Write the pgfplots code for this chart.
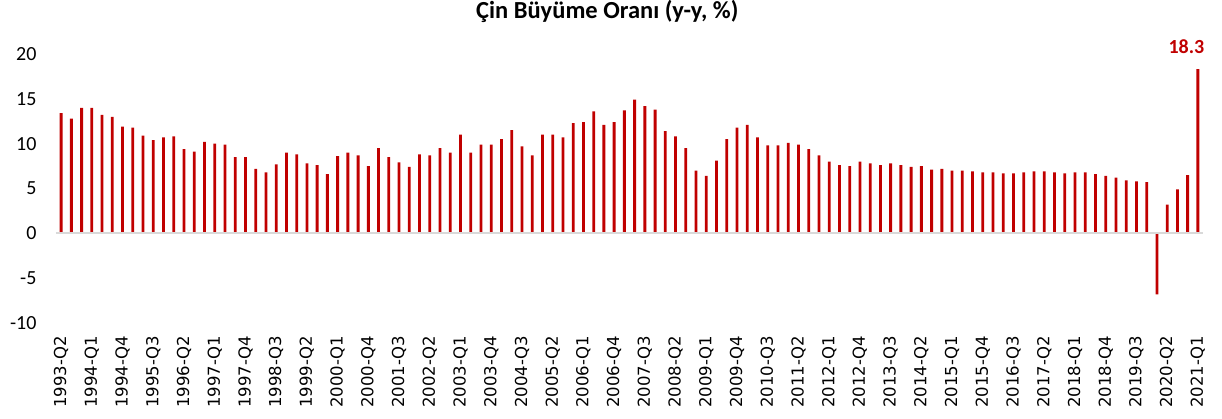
\documentclass[border=0pt]{standalone}
\usepackage{fontspec}
\setmainfont{Carlito}
\newfontfamily\tickfont{DejaVu Sans}
\usepackage{pgfplots}
\usepackage{pgfplotstable}
\pgfplotsset{compat=1.18}
\definecolor{barred}{HTML}{C00000}
\definecolor{axgray}{HTML}{D9D9D9}
\pgfplotstableread{
x y
0 13.4
1 12.8
2 14.0
3 14.0
4 13.2
5 13.0
6 11.9
7 11.8
8 10.9
9 10.4
10 10.7
11 10.8
12 9.4
13 9.1
14 10.2
15 10.0
16 9.9
17 8.5
18 8.5
19 7.2
20 6.8
21 7.7
22 9.0
23 8.8
24 7.8
25 7.6
26 6.6
27 8.6
28 9.0
29 8.7
30 7.5
31 9.5
32 8.5
33 7.9
34 7.4
35 8.8
36 8.7
37 9.5
38 9.0
39 11.0
40 9.0
41 9.9
42 9.9
43 10.5
44 11.5
45 9.7
46 8.7
47 11.0
48 11.0
49 10.7
50 12.3
51 12.4
52 13.6
53 12.1
54 12.4
55 13.7
56 14.9
57 14.2
58 13.8
59 11.4
60 10.8
61 9.5
62 7.0
63 6.4
64 8.1
65 10.5
66 11.8
67 12.1
68 10.7
69 9.8
70 9.8
71 10.1
72 9.9
73 9.4
74 8.7
75 8.0
76 7.6
77 7.5
78 8.0
79 7.8
80 7.6
81 7.8
82 7.6
83 7.4
84 7.5
85 7.1
86 7.2
87 7.0
88 7.0
89 6.9
90 6.8
91 6.8
92 6.7
93 6.7
94 6.8
95 6.9
96 6.9
97 6.8
98 6.7
99 6.8
100 6.8
101 6.6
102 6.4
103 6.2
104 5.9
105 5.8
106 5.7
107 -6.8
108 3.2
109 4.9
110 6.5
111 18.3
}\gdp
\begin{document}
\begin{tikzpicture}
\useasboundingbox (0,0) rectangle (1222pt,419pt);
\begin{axis}[
  at={(56pt,96pt)}, anchor=south west,
  scale only axis, width=1147pt, height=269pt,
  xmin=-0.5, xmax=111.5, ymin=-10, ymax=20,
  axis line style={draw=none},
  major tick length=0pt,
  ytick={-10,-5,0,5,10,15,20},
  yticklabels={-10,-5,0,5,10,15,20},
  yticklabel style={font=\fontsize{20}{22}\selectfont, anchor=east},
  yticklabel shift=16pt,
  xtick={0,3,...,111},
  xticklabels={1993-Q2,1994-Q1,1994-Q4,1995-Q3,1996-Q2,1997-Q1,1997-Q4,1998-Q3,1999-Q2,2000-Q1,2000-Q4,2001-Q3,2002-Q2,2003-Q1,2003-Q4,2004-Q3,2005-Q2,2006-Q1,2006-Q4,2007-Q3,2008-Q2,2009-Q1,2009-Q4,2010-Q3,2011-Q2,2012-Q1,2012-Q4,2013-Q3,2014-Q2,2015-Q1,2015-Q4,2016-Q3,2017-Q2,2018-Q1,2018-Q4,2019-Q3,2020-Q2,2021-Q1},
  xticklabel style={font=\tickfont\fontsize{16.5}{18}\selectfont, rotate=90, anchor=east},
  xticklabel shift=9pt,
  ybar, bar width=2.8pt,
  clip=false,
  title={Çin Büyüme Oranı (y-y, \%)},
  title style={font=\bfseries\fontsize{24.5}{28}\selectfont, at={(0.4806,1)}, anchor=center, yshift=37pt},
]
\addplot[fill=barred, draw=none] table[x=x, y=y] {\gdp};
\draw[axgray, line width=2pt] (axis cs:-0.5,0) -- (axis cs:111.5,0);
\node[font=\bfseries\fontsize{20}{22}\selectfont, text=barred, xshift=-11.5pt, yshift=23pt] at (axis cs:111,18.3) {18.3};
\end{axis}
\end{tikzpicture}
\end{document}
